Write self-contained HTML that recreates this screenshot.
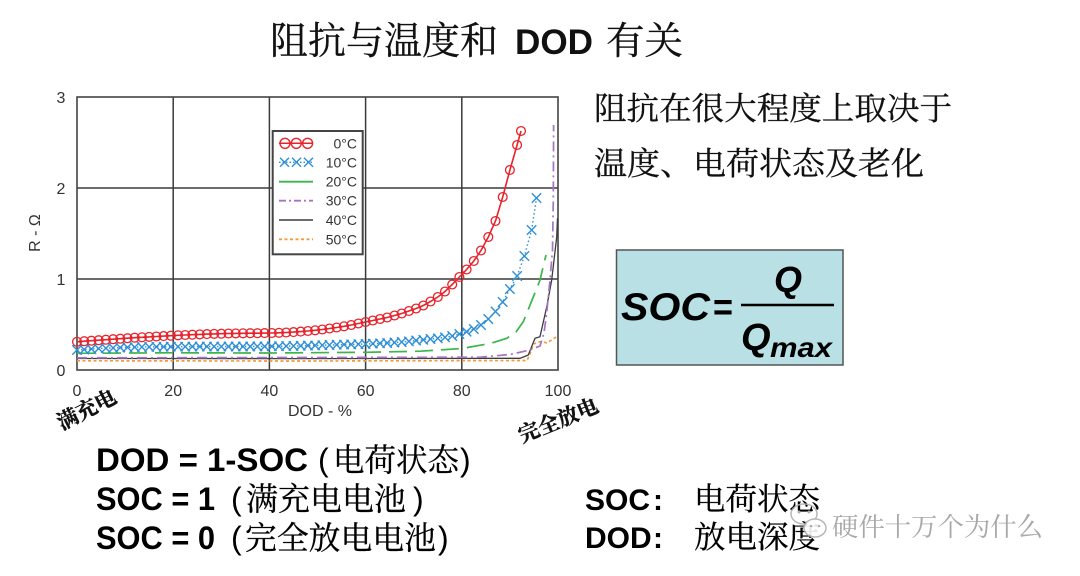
<!DOCTYPE html>
<html><head><meta charset="utf-8"><style>
html,body{margin:0;padding:0;background:#fff;}
svg{display:block;}
.cjk{font-family:"Liberation Serif","Noto Serif CJK SC",serif;}
.sans{font-family:"Liberation Sans","Noto Sans CJK SC",sans-serif;}
</style></head><body>
<svg width="1080" height="576" viewBox="0 0 1080 576" xmlns="http://www.w3.org/2000/svg">
<defs>
<marker id="mc" markerWidth="12" markerHeight="12" refX="6" refY="6" markerUnits="userSpaceOnUse"><circle cx="6" cy="6" r="4.4" fill="none" stroke="#e8232b" stroke-width="1.3"/></marker>
<marker id="mx" markerWidth="14" markerHeight="14" refX="7" refY="7" markerUnits="userSpaceOnUse"><path d="M2.3 2.3L11.7 11.7M11.7 2.3L2.3 11.7" stroke="#2e8fd6" stroke-width="1.4" fill="none"/></marker>
</defs>

<!-- Title -->
<text class="cjk" x="270" y="54" font-size="38" textLength="228" lengthAdjust="spacingAndGlyphs" fill="#111" stroke="#111" stroke-width="0.3">阻抗与温度和</text>
<text class="sans" x="515" y="54" font-size="35" font-weight="bold" fill="#111" textLength="78" lengthAdjust="spacingAndGlyphs">DOD</text>
<text class="cjk" x="606" y="54" font-size="38" textLength="77" lengthAdjust="spacingAndGlyphs" fill="#111" stroke="#111" stroke-width="0.3">有关</text>

<!-- Grid & frame -->
<g stroke="#3a3a3a" stroke-width="1.5" fill="none">
<line x1="173.2" y1="97" x2="173.2" y2="370"/>
<line x1="269.4" y1="97" x2="269.4" y2="370"/>
<line x1="365.6" y1="97" x2="365.6" y2="370"/>
<line x1="461.8" y1="97" x2="461.8" y2="370"/>
<line x1="77" y1="188" x2="558" y2="188"/>
<line x1="77" y1="279" x2="558" y2="279"/>
<rect x="77" y="97" width="481" height="273" stroke="#444" stroke-width="1.6"/>
</g>

<!-- Axis labels -->
<g class="sans" font-size="16" fill="#333" text-anchor="middle">
<text x="61" y="103">3</text>
<text x="61" y="194">2</text>
<text x="61" y="285">1</text>
<text x="61" y="376">0</text>
<text x="77" y="396">0</text>
<text x="173.2" y="396">20</text>
<text x="269.4" y="396">40</text>
<text x="365.6" y="396">60</text>
<text x="461.8" y="396">80</text>
<text x="558" y="396">100</text>
<text x="320" y="416" font-size="16">DOD - %</text>
<text x="0" y="0" font-size="16" transform="translate(40,233) rotate(-90)">R - Ω</text>
</g>

<!-- Series -->
<path d="M77,360.8 L300,361 L527,360.5 L530,354 L533.5,344 L540,341.7 L546.7,342.7 L552,340 L556,337" fill="none" stroke="#f59a3a" stroke-width="1.7" stroke-dasharray="3 2.5"/>
<path d="M77,358.5 L300,358.6 L520,358.3 L528.3,355 L535,338.3 L540,336.7 L546.7,307 L551.7,280 L556.7,237 L557.5,218" fill="none" stroke="#3c3c3c" stroke-width="1.3"/>
<path d="M77,357.8 L300,357.5 L480,357.2 L510,354.5 L528,350.5 L540,346 L544,333 L546.7,313 L550,280 L552.5,250 L553.3,200 L553.6,125" fill="none" stroke="#a574c4" stroke-width="1.7" stroke-dasharray="10 4 2 4"/>
<path d="M77,353.3 L173,352.8 L269,353 L365.6,352.3 L420,351.2 L462,348.5 L490,343.5 L506.7,338.3 L516,332 L523.3,321.7 L533.3,297 L540,280 L546,255" fill="none" stroke="#3cb54a" stroke-width="1.7" stroke-dasharray="18 8"/>
<polyline fill="none" stroke="#2e8fd6" stroke-width="1.4" stroke-dasharray="1.5 2.5" marker-start="url(#mx)" marker-mid="url(#mx)" marker-end="url(#mx)" points="77,350 84.2,349.5 91.4,349 98.6,348.6 105.9,348.2 113.1,347.9 120.3,347.6 127.5,347.4 134.7,347.2 141.9,347 149.2,346.9 156.4,346.8 163.6,346.8 170.8,346.7 178,346.7 185.2,346.7 192.4,346.6 199.7,346.6 206.9,346.6 214.1,346.6 221.3,346.6 228.5,346.5 235.7,346.5 243,346.5 250.2,346.5 257.4,346.4 264.6,346.4 271.8,346.3 279,346.2 286.2,346.1 293.5,346 300.7,345.8 307.9,345.6 315.1,345.4 322.3,345.2 329.5,345 336.7,344.8 344,344.6 351.2,344.4 358.4,344.2 365.6,344 372.8,343.7 380,343.3 387.2,343 394.5,342.5 401.7,342 408.9,341.3 416.1,340.5 423.3,339.8 430.5,339 437.8,338.3 445,337.3 452.2,336 459.4,334 466.6,331.7 473.8,329 481,325 488.3,319 495.5,311.5 502.7,302 509.9,289 517.1,276 524.4,256 531.6,230 536.5,198"/>
<polyline fill="none" stroke="#e8232b" stroke-width="1.6" marker-start="url(#mc)" marker-mid="url(#mc)" marker-end="url(#mc)" points="77,341.8 84.2,341.2 91.4,340.7 98.6,340.2 105.9,339.7 113.1,339.2 120.3,338.7 127.5,338.2 134.7,337.7 141.9,337.3 149.2,336.9 156.4,336.5 163.6,336.1 170.8,335.7 178,335.3 185.2,335 192.4,334.7 199.7,334.4 206.9,334.1 214.1,333.9 221.3,333.7 228.5,333.5 235.7,333.4 243,333.3 250.2,333.2 257.4,333.2 264.6,333.1 271.8,333 279,332.8 286.2,332.5 293.5,332.1 300.7,331.6 307.9,331 315.1,330.3 322.3,329.5 329.5,328.5 336.7,327.5 344,326.3 351.2,325 358.4,323.5 365.6,322 372.8,320.5 380,319 387.2,317.5 394.5,315.5 401.7,313.5 408.9,311 416.1,308.5 423.3,305.5 430.5,301.5 437.8,297 445,291.5 452.2,284.5 459.4,277 466.6,269.5 473.8,261 481,250.5 488.3,237 495.5,221 502.7,197 509.9,170 517.1,145 521,131"/>

<!-- Legend -->
<rect x="272.7" y="131" width="90" height="123.3" fill="#fff" stroke="#444" stroke-width="2"/>
<g fill="none">
<line x1="279" y1="143.3" x2="313" y2="143.3" stroke="#e8232b" stroke-width="1.5"/>
<circle cx="285" cy="143.3" r="5" stroke="#e8232b" stroke-width="1.4"/>
<circle cx="296.3" cy="143.3" r="5" stroke="#e8232b" stroke-width="1.4"/>
<circle cx="307.6" cy="143.3" r="5" stroke="#e8232b" stroke-width="1.4"/>
<line x1="279" y1="162.3" x2="313" y2="162.3" stroke="#2e8fd6" stroke-width="1.3" stroke-dasharray="1.5 2"/>
<path d="M280,157.8 L289,166.8 M289,157.8 L280,166.8 M292,157.8 L301,166.8 M301,157.8 L292,166.8 M304,157.8 L313,166.8 M313,157.8 L304,166.8" stroke="#2e8fd6" stroke-width="1.4"/>
<line x1="279" y1="181.7" x2="313" y2="181.7" stroke="#3cb54a" stroke-width="1.8"/>
<line x1="279" y1="200.7" x2="313" y2="200.7" stroke="#a574c4" stroke-width="1.8" stroke-dasharray="7 3 2 3"/>
<line x1="279" y1="220" x2="313" y2="220" stroke="#3c3c3c" stroke-width="1.4"/>
<line x1="279" y1="239.3" x2="313" y2="239.3" stroke="#f59a3a" stroke-width="1.8" stroke-dasharray="3 2.5"/>
</g>
<g class="sans" font-size="14" fill="#333" text-anchor="end">
<text x="357" y="148.3">0°C</text>
<text x="357" y="167.3">10°C</text>
<text x="357" y="186.7">20°C</text>
<text x="357" y="205.7">30°C</text>
<text x="357" y="225">40°C</text>
<text x="357" y="244.3">50°C</text>
</g>

<!-- Rotated labels -->
<text class="cjk" x="0" y="0" font-size="21" font-weight="bold" fill="#111" stroke="#111" stroke-width="0.4" text-anchor="middle" transform="translate(90,416) rotate(-27)">满充电</text>
<text class="cjk" x="0" y="0" font-size="21" font-weight="bold" fill="#111" stroke="#111" stroke-width="0.4" text-anchor="middle" transform="translate(561,427) rotate(-22)">完全放电</text>

<!-- Right text -->
<text class="cjk" x="594" y="119.5" font-size="32" fill="#111" stroke="#111" stroke-width="0.3" textLength="358" lengthAdjust="spacingAndGlyphs">阻抗在很大程度上取决于</text>
<text class="cjk" x="594" y="174.5" font-size="32" fill="#111" stroke="#111" stroke-width="0.3" textLength="330" lengthAdjust="spacingAndGlyphs">温度、电荷状态及老化</text>

<!-- SOC box -->
<rect x="616.5" y="250" width="226.5" height="115" fill="#b9e0e4" stroke="#555" stroke-width="1.5"/>
<g class="sans" font-weight="bold" font-style="italic" fill="#000">
<text x="621" y="320" font-size="39" textLength="89" lengthAdjust="spacingAndGlyphs">SOC</text>
<text x="713" y="320" font-size="38" font-style="normal" textLength="20" lengthAdjust="spacingAndGlyphs">=</text>
<text x="774" y="292" font-size="36">Q</text>
<text x="741" y="350" font-size="38">Q</text>
<text x="770" y="357" font-size="28" textLength="62" lengthAdjust="spacingAndGlyphs">max</text>
</g>
<line x1="741" y1="305" x2="834" y2="305" stroke="#000" stroke-width="2.5"/>

<!-- Bottom left -->
<g fill="#000">
<text class="sans" x="96" y="471" font-size="32" font-weight="bold" textLength="212" lengthAdjust="spacingAndGlyphs">DOD = 1-SOC</text>
<text class="sans" x="318" y="471" font-size="32">(</text>
<text class="cjk" x="333" y="471" font-size="32" stroke="#000" stroke-width="0.3" textLength="126" lengthAdjust="spacingAndGlyphs">电荷状态</text>
<text class="sans" x="460" y="471" font-size="32">)</text>

<text class="sans" x="96" y="510" font-size="32" font-weight="bold" textLength="119" lengthAdjust="spacingAndGlyphs">SOC = 1</text>
<text class="sans" x="231" y="510" font-size="32">(</text>
<text class="cjk" x="246" y="510" font-size="32" stroke="#000" stroke-width="0.3" textLength="160" lengthAdjust="spacingAndGlyphs">满充电电池</text>
<text class="sans" x="413" y="510" font-size="32">)</text>

<text class="sans" x="96" y="549" font-size="32" font-weight="bold" textLength="119" lengthAdjust="spacingAndGlyphs">SOC = 0</text>
<text class="sans" x="231" y="549" font-size="32">(</text>
<text class="cjk" x="245" y="549" font-size="32" stroke="#000" stroke-width="0.3" textLength="191" lengthAdjust="spacingAndGlyphs">完全放电电池</text>
<text class="sans" x="438" y="549" font-size="32">)</text>
</g>

<!-- Bottom right -->
<g fill="#000">
<text class="sans" x="585" y="510" font-size="30" font-weight="bold">SOC</text>
<text class="sans" x="653" y="510" font-size="30" font-weight="bold">:</text>
<text class="cjk" x="694" y="510" font-size="31" stroke="#000" stroke-width="0.3" textLength="126" lengthAdjust="spacingAndGlyphs">电荷状态</text>
<text class="sans" x="585" y="548" font-size="30" font-weight="bold">DOD</text>
<text class="sans" x="653" y="548" font-size="30" font-weight="bold">:</text>
<text class="cjk" x="694" y="548" font-size="31" stroke="#000" stroke-width="0.3" textLength="126" lengthAdjust="spacingAndGlyphs">放电深度</text>
</g>

<!-- Watermark -->
<g fill="none" stroke="#b0b0b0" stroke-width="1.5" opacity="0.9">
<ellipse cx="804" cy="514" rx="13" ry="10"/>
<ellipse cx="815" cy="528" rx="11" ry="9" fill="#fff"/>
</g>
<g fill="#b0b0b0">
<circle cx="799" cy="512" r="1.5"/><circle cx="809" cy="512" r="1.5"/>
<circle cx="811" cy="526" r="1.3"/><circle cx="819" cy="526" r="1.3"/>
</g>
<text class="cjk" x="832" y="536" font-size="26" fill="#a8a8a8" textLength="211" lengthAdjust="spacingAndGlyphs">硬件十万个为什么</text>
</svg>
</body></html>
